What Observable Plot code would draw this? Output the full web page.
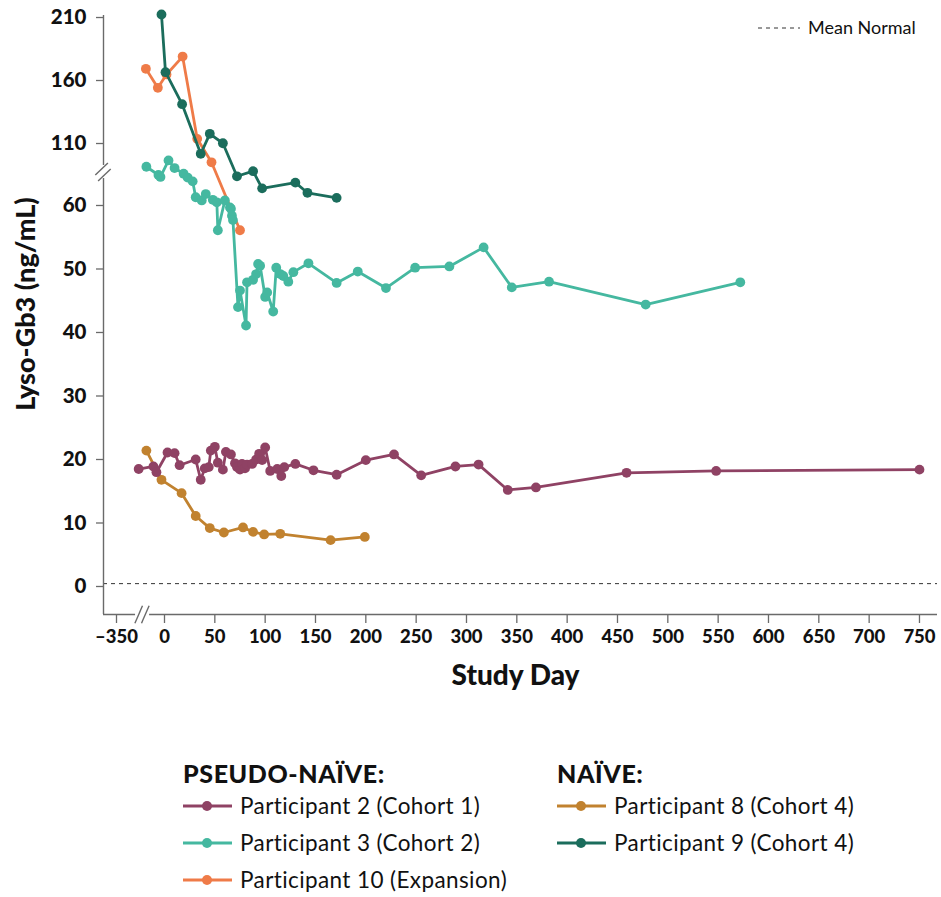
<!DOCTYPE html>
<html><head><meta charset="utf-8">
<script src="https://cdn.jsdelivr.net/npm/d3@7"></script>
<script src="https://cdn.jsdelivr.net/npm/@observablehq/plot@0.6"></script>
<style>
body{margin:0;background:#fff;font-family:Lato,"DejaVu Sans",sans-serif;}
#wrap{position:relative;width:941px;height:897px;}
#legend{position:absolute;left:0;top:700px;width:941px;height:197px;}
.hdr{position:absolute;font-weight:900;font-size:25px;letter-spacing:0.6px;line-height:30px;color:#111;white-space:nowrap;}
.item{position:absolute;font-size:22.5px;letter-spacing:0.4px;line-height:30px;color:#111;display:flex;align-items:center;white-space:nowrap;}
.item svg{margin-right:8px;}
</style></head><body>
<div id="wrap"><div id="chart"></div><div id="legend"></div></div>
<script>
// ---- data (study day, lyso-Gb3 ng/mL) ----
const p2Day = [-328,-11,-8,3,10,15,31,36,40,44,46,50,53,58,61,66,70,72,75,77,80,82,87,91,94,97,100,105,112,116,119,130,148,171,200,228,255,289,312,341,369,459,548,750];
const p2Val = [18.5,18.9,18.0,21.1,21.0,19.1,20.0,16.8,18.6,18.8,21.4,22.0,19.5,18.4,21.2,20.8,19.4,18.8,18.4,19.3,18.6,19.2,19.3,20.0,20.9,19.9,21.9,18.2,18.5,17.4,18.8,19.3,18.3,17.6,19.9,20.8,17.5,18.9,19.2,15.2,15.6,17.9,18.2,18.4];

const p3Day = [-18,-6,-4,4,10,19,23,28,31,37,41,48,52,53,60,65,66,67,68,73,75,81,82,88,91,93,95,100,102,108,111,115,118,123,128,143,171,192,220,249,283,317,345,382,478,572];
const p3Val = [66.1,64.8,64.5,67.1,65.9,65.0,64.4,63.8,61.3,60.8,61.8,60.9,60.5,56.1,60.8,59.7,59.5,58.4,57.7,44.0,46.6,41.1,47.9,48.3,49.2,50.8,50.5,45.6,46.3,43.3,50.2,49.2,48.9,48.0,49.5,50.9,47.8,49.6,47.0,50.2,50.4,53.4,47.1,48.0,44.4,47.9];

const p10Day = [-18.5,-6.6,2,18,32.5,46.7,75];
const p10Val = [169.3,154.2,164.8,179,113.7,66.8,56.1];

const p8Day = [-18,-3,17,31,45,59,78,88,99,115,165,199];
const p8Val = [21.4,16.8,14.7,11.1,9.2,8.5,9.3,8.6,8.2,8.3,7.3,7.8];

const p9Day = [-3,1,17.5,36,45,58,72,88,97,130,142,171];
const p9Val = [212.4,166.6,141.2,101.8,117.7,110.2,64.6,65.4,62.7,63.6,62.0,61.2];

const meanNormal = [0.45];

const xTicks = [-350,0,50,100,150,200,250,300,350,400,450,500,550,600,650,700,750];
const yTicks = [0,10,20,30,40,50,60,110,160,210];

const seriesNames = ["Participant 2 (Cohort 1)","Participant 3 (Cohort 2)","Participant 10 (Expansion)","Participant 8 (Cohort 4)","Participant 9 (Cohort 4)"];
const seriesColors = ["#8f4264","#45b8a0","#ef7b48","#c1822f","#1b6d5c"];

// ---- broken scales (piecewise) ----
const xDomain = [-362.9,-324.2,-21.85,767.9];
const xRange  = [103,142,142,937];
const yDomain = [-4.41,67.4,98.1,211.6];
const yRange  = [614,158,158,15];
// axis-line gaps at the breaks (data units)
const xGap = [-331.1,-14.8];
const yGap = [64.25,66.3];
const yBreakAt = 65.2;

const rows = (name, days, vals) => days.map((d,i)=>({name, day:d, value:vals[i]}));
const data = {
  "Participant 2 (Cohort 1)": rows(seriesNames[0], p2Day, p2Val),
  "Participant 3 (Cohort 2)": rows(seriesNames[1], p3Day, p3Val),
  "Participant 10 (Expansion)": rows(seriesNames[2], p10Day, p10Val),
  "Participant 8 (Cohort 4)": rows(seriesNames[3], p8Day, p8Val),
  "Participant 9 (Cohort 4)": rows(seriesNames[4], p9Day, p9Val)
};
const drawOrder = [2,3,0,1,4];

const seriesMarks = drawOrder.flatMap(k => [
  Plot.line(data[seriesNames[k]], {x:"day", y:"value", stroke: seriesColors[k], strokeWidth: 2.8}),
  Plot.dot(data[seriesNames[k]], {x:"day", y:"value", fill: seriesColors[k], r: 4.9})
]);

const axisColor = "#6a6a6a";
const fmtX = d => d < 0 ? "\u2013" + Math.abs(d) : String(d);

function decorations(index, scales, values, dims) {
  const ns = "http://www.w3.org/2000/svg";
  const g = document.createElementNS(ns, "g");
  const ln = (x1,y1,x2,y2,stroke,w,dash) => {
    const l = document.createElementNS(ns, "line");
    l.setAttribute("x1",x1); l.setAttribute("y1",y1); l.setAttribute("x2",x2); l.setAttribute("y2",y2);
    l.setAttribute("stroke",stroke); l.setAttribute("stroke-width",w);
    if (dash) l.setAttribute("stroke-dasharray",dash);
    g.appendChild(l);
  };
  // y-axis break slashes
  const ax = scales.x(xDomain[0]), ay = scales.y(yBreakAt);
  for (const k of [-1,1]) {
    const cx = ax + k*1.4, cy = ay + k*3;
    ln(cx-6.3, cy+6, cx+6.3, cy-6, axisColor, 1.4);
  }
  // x-axis break slashes
  const bx = scales.x(xDomain[1]), by = scales.y(yDomain[0]);
  for (const k of [-1,1]) {
    const cx = bx + k*3.3, cy = by + 0.5;
    ln(cx-3.8, cy+8.7, cx+3.8, cy-8.7, axisColor, 1.4);
  }
  // Mean Normal key (top right)
  const right = dims.width;
  ln(right-183, 28, right-141, 28, "#333", 1, "4,4");
  const t = document.createElementNS(ns, "text");
  t.setAttribute("x", right-133); t.setAttribute("y", 28);
  t.setAttribute("dy","0.35em");
  t.setAttribute("text-anchor","start");
  t.setAttribute("font-size","18"); t.setAttribute("fill","#111");
  t.textContent = "Mean Normal";
  g.appendChild(t);
  return g;
}

const chart = Plot.plot({
  width: 941, height: 700,
  marginLeft: 103, marginRight: 4, marginTop: 15, marginBottom: 86,
  style: {fontFamily: "Lato, 'DejaVu Sans', sans-serif", color: "#111", background: "white", overflow: "visible"},
  x: {type: "linear", domain: xDomain, range: xRange, label: null},
  y: {type: "linear", domain: yDomain, range: yRange, label: null},
  marks: [
    Plot.ruleY(meanNormal, {stroke: "#333", strokeWidth: 1, strokeDasharray: "4,4"}),
    Plot.ruleX([xDomain[0]], {y1: yDomain[0], y2: yGap[0], stroke: axisColor, strokeWidth: 1.4}),
    Plot.ruleX([xDomain[0]], {y1: yGap[1], y2: yDomain[3], stroke: axisColor, strokeWidth: 1.4}),
    Plot.ruleY([yDomain[0]], {x1: xDomain[0], x2: xGap[0], stroke: axisColor, strokeWidth: 1.4}),
    Plot.ruleY([yDomain[0]], {x1: xGap[1], x2: xDomain[3], stroke: axisColor, strokeWidth: 1.4}),
    ...seriesMarks,
    Plot.axisX(xTicks, {anchor: "bottom", tickSize: 9, tickPadding: 6, tickFormat: fmtX, stroke: axisColor, strokeWidth: 1.3, fill: "#111", fontSize: 18.5, fontWeight: 900, label: null}),
    Plot.axisY(yTicks, {anchor: "left", tickSize: 7, tickPadding: 10, stroke: axisColor, strokeWidth: 1.3, fill: "#111", fontSize: 20.5, fontWeight: 900, label: null}),
    Plot.text(["Lyso-Gb3 (ng/mL)"], {text: d => d, frameAnchor: "left", rotate: -90, dx: -77, dy: -11, fontSize: 27, fontWeight: 900, letterSpacing: 1.2, textAnchor: "middle", lineAnchor: "middle", fill: "#111"}),
    Plot.text(["Study Day"], {text: d => d, frameAnchor: "bottom", dx: -5, dy: 62, fontSize: 28, fontWeight: 900, textAnchor: "middle", lineAnchor: "middle", fill: "#111"}),
    decorations
  ]
});
document.getElementById("chart").appendChild(chart);

// ---- legend below ----
const legend = document.getElementById("legend");
const groups = [
  {title: "PSEUDO-NA\u00CFVE:", left: 183, items: [0,1,2]},
  {title: "NA\u00CFVE:", left: 557, items: [3,4]}
];
for (const grp of groups) {
  const h = document.createElement("div");
  h.className = "hdr"; h.style.left = grp.left + "px"; h.style.top = "58px";
  h.textContent = grp.title; legend.appendChild(h);
  grp.items.forEach((k, i) => {
    const it = document.createElement("div");
    it.className = "item"; it.style.left = grp.left + "px"; it.style.top = (91 + 37*i) + "px";
    it.innerHTML = `<svg width="49" height="12"><line x1="0" y1="6" x2="49" y2="6" stroke="${seriesColors[k]}" stroke-width="3"/><circle cx="24" cy="6" r="5" fill="${seriesColors[k]}"/></svg><span>${seriesNames[k]}</span>`;
    legend.appendChild(it);
  });
}
</script>
</body></html>
